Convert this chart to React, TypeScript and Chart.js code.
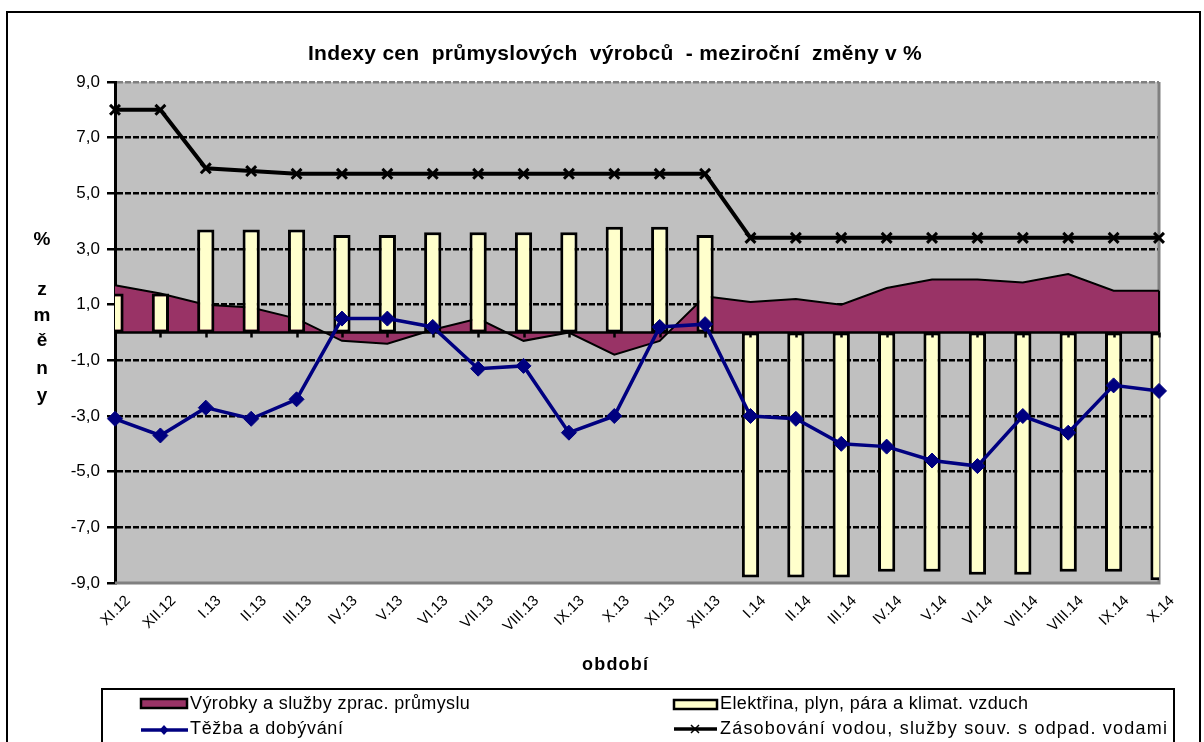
import React, { useEffect, useRef } from "react";
import { Chart, registerables } from "chart.js";

Chart.register(...registerables);

const categories = [
  "XI.12", "XII.12", "I.13", "II.13", "III.13", "IV.13", "V.13", "VI.13",
  "VII.13", "VIII.13", "IX.13", "X.13", "XI.13", "XII.13", "I.14", "II.14",
  "III.14", "IV.14", "V.14", "VI.14", "VII.14", "VIII.14", "IX.14", "X.14",
];

const vyrobkyValues = [
  1.7, 1.4, 1.0, 0.9, 0.5, -0.3, -0.4, 0.1, 0.5, -0.3, 0.0, -0.8,
  -0.3, 1.3, 1.1, 1.2, 1.0, 1.6, 1.9, 1.9, 1.8, 2.1, 1.5, 1.5,
];

const elektrinaValues = [
  1.4, 1.4, 3.7, 3.7, 3.7, 3.5, 3.5, 3.6, 3.6, 3.6, 3.6, 3.8,
  3.8, 3.5, -8.8, -8.8, -8.8, -8.6, -8.6, -8.7, -8.7, -8.6, -8.6, -8.9,
];

const tezbaValues = [
  -3.1, -3.7, -2.7, -3.1, -2.4, 0.5, 0.5, 0.2, -1.3, -1.2, -3.6, -3.0,
  0.2, 0.3, -3.0, -3.1, -4.0, -4.1, -4.6, -4.8, -3.0, -3.6, -1.9, -2.1,
];

const zasobovaniValues = [
  8.0, 8.0, 5.9, 5.8, 5.7, 5.7, 5.7, 5.7, 5.7, 5.7, 5.7, 5.7,
  5.7, 5.7, 3.4, 3.4, 3.4, 3.4, 3.4, 3.4, 3.4, 3.4, 3.4, 3.4,
];

const yTickValues = [-9, -7, -5, -3, -1, 1, 3, 5, 7, 9];

const seriesNames = [
  "Výrobky a služby zprac. průmyslu",
  "Elektřina, plyn, pára a klimat. vzduch",
  "Těžba a dobývání",
  "Zásobování vodou, služby souv. s odpad. vodami",
];

const titleText = "Indexy cen  průmyslových  výrobců  - meziroční  změny v %";
const xTitleText = "období";
const yTitleChars = ["%", "z", "m", "ě", "n", "y"];

const FONT = "'Liberation Sans', Arial, Helvetica, sans-serif";
const MAROON = "#993366";
const CREAM = "#FFFFCC";
const NAVY = "#000080";
const PLOT_BG = "#C0C0C0";
const PLOT_EDGE = "#808080";

function drawFitted(
  ctx: CanvasRenderingContext2D,
  text: string,
  x: number,
  y: number,
  width: number,
  font: string,
  align: "left" | "center"
) {
  ctx.save();
  ctx.font = font;
  const anyCtx = ctx as any;
  anyCtx.letterSpacing = "0px";
  const natural = ctx.measureText(text).width;
  const n = Array.from(text).length;
  const ls = (width - natural) / Math.max(n - 1, 1);
  anyCtx.letterSpacing = ls.toFixed(2) + "px";
  ctx.textAlign = "left";
  ctx.textBaseline = "middle";
  ctx.fillStyle = "#000";
  const startX = align === "center" ? x - width / 2 : x;
  ctx.fillText(text, startX, y);
  ctx.restore();
}

const decorPlugin = {
  id: "decor",
  beforeDraw(chart: any) {
    const { ctx, chartArea: a } = chart;
    ctx.save();
    ctx.fillStyle = "#ffffff";
    ctx.fillRect(0, 0, chart.width, chart.height);
    ctx.fillStyle = PLOT_BG;
    ctx.fillRect(a.left, a.top, a.right - a.left, a.bottom - a.top);
    ctx.restore();
  },
  beforeDatasetsDraw(chart: any) {
    const { ctx, chartArea: a } = chart;
    ctx.save();
    ctx.strokeStyle = PLOT_EDGE;
    ctx.lineWidth = 3;
    ctx.beginPath();
    ctx.moveTo(a.right, a.top);
    ctx.lineTo(a.right, a.bottom);
    ctx.lineTo(a.left, a.bottom);
    ctx.stroke();
    ctx.restore();
  },
  afterDatasetDraw(chart: any, args: any) {
    const { ctx, chartArea: a } = chart;
    const xs = chart.scales.x;
    const ys = chart.scales.y;
    const y0 = ys.getPixelForValue(0);
    if (args.index === 0) {
      const last = vyrobkyValues.length - 1;
      ctx.save();
      ctx.strokeStyle = "#000";
      ctx.lineWidth = 2;
      ctx.beginPath();
      ctx.moveTo(xs.getPixelForValue(last), ys.getPixelForValue(vyrobkyValues[last]));
      ctx.lineTo(xs.getPixelForValue(last), y0);
      ctx.stroke();
      ctx.restore();
    }
    if (args.index === 1) {
      ctx.save();
      ctx.strokeStyle = "#000";
      ctx.lineWidth = 2.5;
      ctx.beginPath();
      ctx.moveTo(a.left, y0);
      ctx.lineTo(a.right, y0);
      for (let i = 0; i < categories.length; i++) {
        const x = Math.round(xs.getPixelForValue(i)) + 0.5;
        ctx.moveTo(x, y0);
        ctx.lineTo(x, y0 + 5);
      }
      ctx.stroke();
      ctx.restore();
    }
  },
  afterDraw(chart: any) {
    const { ctx } = chart;
    ctx.save();

    // outer chart border
    ctx.strokeStyle = "#000";
    ctx.lineWidth = 2;
    ctx.strokeRect(7, 12, 1193, 800);

    // title
    drawFitted(ctx, titleText, 615, 54, 614, `bold 21px ${FONT}`, "center");

    // x axis title
    drawFitted(ctx, xTitleText, 615, 665, 66, `bold 18px ${FONT}`, "center");

    // y axis title, stacked letters
    ctx.font = `bold 19px ${FONT}`;
    ctx.fillStyle = "#000";
    ctx.textAlign = "center";
    ctx.textBaseline = "middle";
    const yPos = [240, 290, 316, 341, 369, 396];
    yTitleChars.forEach((c, i) => ctx.fillText(c, 42, yPos[i]));

    // legend box
    ctx.strokeStyle = "#000";
    ctx.lineWidth = 2;
    ctx.strokeRect(102, 689, 1174 - 102, 80);

    // legend symbols
    ctx.fillStyle = MAROON;
    ctx.fillRect(141, 699, 46, 9);
    ctx.lineWidth = 2.5;
    ctx.strokeStyle = "#000";
    ctx.strokeRect(141, 699, 46, 9);
    ctx.fillStyle = CREAM;
    ctx.fillRect(674, 700, 43, 9);
    ctx.strokeRect(674, 700, 43, 9);
    ctx.strokeStyle = NAVY;
    ctx.lineWidth = 3.5;
    ctx.beginPath();
    ctx.moveTo(141, 730);
    ctx.lineTo(188, 730);
    ctx.stroke();
    ctx.fillStyle = NAVY;
    ctx.beginPath();
    ctx.moveTo(164, 725);
    ctx.lineTo(168.5, 730);
    ctx.lineTo(164, 735);
    ctx.lineTo(159.5, 730);
    ctx.closePath();
    ctx.fill();
    ctx.strokeStyle = "#000";
    ctx.lineWidth = 3.5;
    ctx.beginPath();
    ctx.moveTo(674, 729);
    ctx.lineTo(717, 729);
    ctx.stroke();
    ctx.lineWidth = 1.5;
    ctx.beginPath();
    ctx.moveTo(691, 725);
    ctx.lineTo(699, 733);
    ctx.moveTo(699, 725);
    ctx.lineTo(691, 733);
    ctx.stroke();

    // legend texts
    drawFitted(ctx, seriesNames[0], 190, 704, 280, `18px ${FONT}`, "left");
    drawFitted(ctx, seriesNames[2], 190, 729, 153, `18px ${FONT}`, "left");
    drawFitted(ctx, seriesNames[1], 720, 704, 308, `18px ${FONT}`, "left");
    drawFitted(ctx, seriesNames[3], 720, 729, 447, `18px ${FONT}`, "left");

    ctx.restore();
  },
};

export default function App() {
  const canvasRef = useRef<HTMLCanvasElement | null>(null);

  useEffect(() => {
    const canvas = canvasRef.current;
    if (!canvas) return;
    const chart = new Chart(canvas, {
      type: "bar",
      data: {
        labels: categories,
        datasets: [
          {
            type: "line",
            label: seriesNames[0],
            data: vyrobkyValues,
            fill: "origin",
            backgroundColor: MAROON,
            borderColor: "#000",
            borderWidth: 2,
            pointRadius: 0,
            tension: 0,
            order: 4,
            clip: false,
          } as any,
          {
            type: "bar",
            label: seriesNames[1],
            data: elektrinaValues,
            backgroundColor: CREAM,
            borderColor: "#000",
            borderWidth: 3,
            borderSkipped: false,
            categoryPercentage: 1,
            barPercentage: 0.38,
            order: 3,
            clip: 0,
          } as any,
          {
            type: "line",
            label: seriesNames[2],
            data: tezbaValues,
            fill: false,
            borderColor: NAVY,
            borderWidth: 3.5,
            pointStyle: "rectRot",
            pointRadius: 7.5,
            pointBackgroundColor: NAVY,
            pointBorderColor: NAVY,
            pointBorderWidth: 1,
            tension: 0,
            order: 2,
            clip: false,
          } as any,
          {
            type: "line",
            label: seriesNames[3],
            data: zasobovaniValues,
            fill: false,
            borderColor: "#000",
            borderWidth: 4,
            pointStyle: "crossRot",
            pointRadius: 7,
            pointBorderColor: "#000",
            pointBorderWidth: 3,
            tension: 0,
            order: 1,
            clip: false,
          } as any,
        ],
      },
      options: {
        animation: false,
        responsive: false,
        maintainAspectRatio: false,
        layout: { padding: { left: 0, right: 45, top: 82, bottom: 0 } },
        plugins: {
          legend: { display: false },
          title: { display: false },
          tooltip: { enabled: false },
        },
        scales: {
          x: {
            type: "category",
            offset: false,
            grid: { display: false, drawTicks: false },
            border: { display: false },
            ticks: {
              autoSkip: false,
              minRotation: 45,
              maxRotation: 45,
              font: { family: FONT, size: 15 },
              color: "#000",
              padding: 9,
              labelOffset: 13,
            },
            afterFit: (s: any) => {
              s.height = 159;
              s.paddingLeft = 0;
              s.paddingRight = 0;
            },
          },
          y: {
            type: "linear",
            min: -9,
            max: 9,
            afterBuildTicks: (s: any) => {
              s.ticks = yTickValues.map((v) => ({ value: v }));
            },
            ticks: {
              callback: (v: any) => Number(v).toFixed(1).replace(".", ","),
              font: { family: FONT, size: 17 },
              color: "#000",
              padding: 7,
            },
            grid: {
              color: (c: any) =>
                c.tick && c.tick.value === 9
                  ? PLOT_EDGE
                  : c.tick && c.tick.value === -9
                  ? "rgba(0,0,0,0)"
                  : "#000",
              lineWidth: 2.5,
              drawTicks: true,
              tickLength: 8,
              tickColor: "#000",
              tickWidth: 2.5,
              tickBorderDash: [],
            },
            border: { display: true, color: "#000", width: 3, dash: [6, 2] },
            afterFit: (s: any) => {
              s.width = 115;
              s.paddingTop = 0;
              s.paddingBottom = 0;
            },
          },
        },
      } as any,
      plugins: [decorPlugin as any],
    });
    return () => chart.destroy();
  }, []);

  return (
    <div style={{ position: "absolute", left: 0, top: 0, width: 1204, height: 742, background: "#fff" }}>
      <canvas ref={canvasRef} width={1204} height={742} style={{ width: 1204, height: 742, display: "block" }} />
    </div>
  );
}
